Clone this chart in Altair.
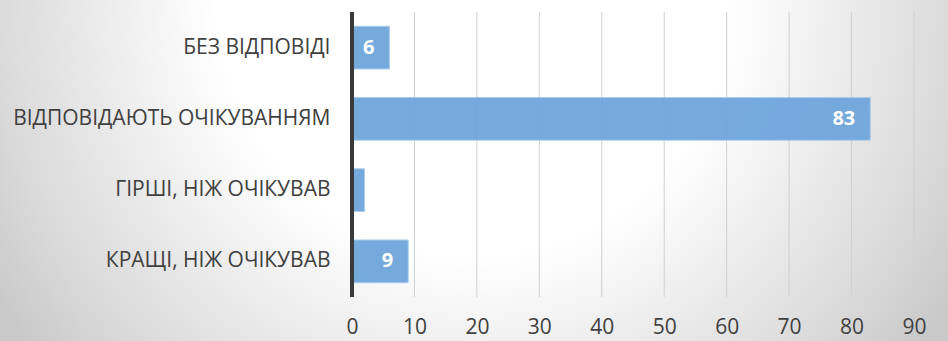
import altair as alt
import pandas as pd

# Survey answers and their shares (%)
categories = [
    "БЕЗ ВІДПОВІДІ",
    "ВІДПОВІДАЮТЬ ОЧІКУВАННЯМ",
    "ГІРШІ, НІЖ ОЧІКУВАВ",
    "КРАЩІ, НІЖ ОЧІКУВАВ",
]
values = [6, 83, 2, 9]
x_ticks = [0, 10, 20, 30, 40, 50, 60, 70, 80, 90]

df = pd.DataFrame({"category": categories, "value": values})
grid_df = pd.DataFrame({"value": x_ticks[1:]})

W, H = 562, 285
PAD = {"left": 352, "top": 12, "right": 34, "bottom": 44}
FONT = "Open Sans"
TEXT_COLOR = "#404040"

x_scale = alt.Scale(domain=[0, 90], nice=False, zero=True)
y_scale = alt.Scale(domain=categories, paddingInner=0.4, paddingOuter=0.2)

x_axis = alt.Axis(
    title=None,
    values=x_ticks,
    grid=False,
    domain=False,
    ticks=False,
    labelFont=FONT,
    labelFontSize=21,
    labelColor=TEXT_COLOR,
    labelPadding=19,
    labelFlush=False,
    labelOverlap=False,
    zindex=1,
)
y_axis = alt.Axis(
    title=None,
    domain=False,
    ticks=False,
    grid=False,
    labelFont=FONT,
    labelFontSize=21,
    labelColor=TEXT_COLOR,
    labelPadding=22,
    labelLimit=400,
    zindex=1,
)

# Soft radial backdrop behind the whole figure
backdrop = alt.Chart(pd.DataFrame({"k": [0]})).mark_rect(
    fill=alt.RadialGradient(
        gradient="radial",
        x1=0.5, y1=0.32, r1=0,
        x2=0.5, y2=0.32, r2=0.6,
        stops=[
            alt.GradientStop(color="#ffffff", offset=0),
            alt.GradientStop(color="#ffffff", offset=0.45),
            alt.GradientStop(color="#d9d9d9", offset=0.85),
            alt.GradientStop(color="#c8c8c8", offset=1),
        ],
    ),
    clip=False,
).encode(
    x=alt.value(-PAD["left"]),
    x2=alt.value(W + PAD["right"]),
    y=alt.value(-PAD["top"]),
    y2=alt.value(H + PAD["bottom"]),
)

# Vertical gridlines
grid = alt.Chart(grid_df).mark_rule(color="#cfcfcf", strokeWidth=1).encode(
    x=alt.X("value:Q", scale=x_scale, axis=x_axis),
    y=alt.value(0),
    y2=alt.value(H),
)

base = alt.Chart(df)

bars = base.mark_bar(
    color="#6fa6dc", stroke="#a8cbee", strokeWidth=1, opacity=0.95
).encode(
    x=alt.X("value:Q", scale=x_scale, axis=x_axis),
    y=alt.Y("category:N", scale=y_scale, sort=categories, axis=y_axis),
)

labels = base.transform_filter("datum.value >= 5").mark_text(
    align="right",
    baseline="middle",
    dx=-15,
    font=FONT,
    fontSize=20,
    fontWeight="bold",
    color="white",
).encode(
    x=alt.X("value:Q", scale=x_scale, axis=x_axis),
    y=alt.Y("category:N", scale=y_scale, sort=categories, axis=y_axis),
    text=alt.Text("value:Q"),
)

# Dark vertical axis line at zero
zero_line = alt.Chart(pd.DataFrame({"value": [0]})).mark_rule(
    color="#3a3a3a", strokeWidth=4
).encode(
    x=alt.X("value:Q", scale=x_scale, axis=x_axis),
    y=alt.value(0),
    y2=alt.value(H),
)

chart = (
    alt.layer(backdrop, grid, bars, labels, zero_line)
    .properties(
        width=W,
        height=H,
        autosize=alt.AutoSizeParams(type="none"),
        padding=PAD,
        background="#ffffff",
    )
    .configure_view(stroke=None)
)

chart.save("out.html", embed_options={"renderer": "svg", "actions": False})
